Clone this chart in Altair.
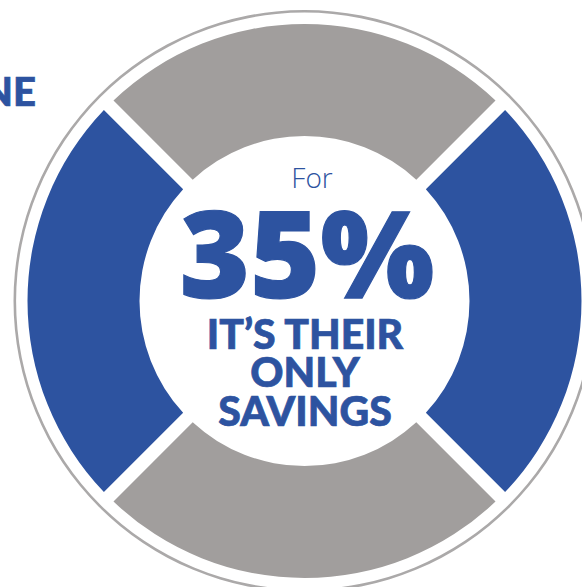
import math
import altair as alt
import pandas as pd

# Ring segments, clockwise from the top
segments = ["top", "right", "bottom", "left"]
shares = [25, 25, 25, 25]
tones = ["#A19E9D", "#2D53A0", "#A19E9D", "#2D53A0"]

BLUE = "#2D53A0"
CX, CY = 304.5, 301

ring_data = pd.DataFrame({"segment": segments, "share": shares, "order": range(len(segments))})

rim = (
    alt.Chart(pd.DataFrame({"part": ["rim"]}))
    .mark_arc(innerRadius=288.4, outerRadius=291, theta=0, theta2=2 * math.pi, color="#ABA9A9")
    .encode(x=alt.value(CX), y=alt.value(CY))
)

ring = (
    alt.Chart(ring_data)
    .mark_arc(innerRadius=165, outerRadius=277, padAngle=0.042)
    .encode(
        theta=alt.Theta(
            "share:Q",
            stack=True,
            scale=alt.Scale(domain=[0, 100], range=[-math.pi / 4, 7 * math.pi / 4]),
        ),
        color=alt.Color("segment:N", scale=alt.Scale(domain=segments, range=tones), legend=None),
        order=alt.Order("order:Q"),
        x=alt.value(CX),
        y=alt.value(CY),
    )
)


def label(text, x, y, size, weight=900, align="center", font="Lato", thicken=0.7):
    return (
        alt.Chart(pd.DataFrame({"label": [text]}))
        .mark_text(
            font=font,
            fontSize=size,
            fontWeight=weight,
            color=BLUE,
            stroke=BLUE,
            strokeWidth=thicken,
            align=align,
            baseline="alphabetic",
        )
        .encode(text="label:N", x=alt.value(x), y=alt.value(y))
    )


chart = alt.layer(
    rim,
    ring,
    label("ONE", 36, 106, 40, align="right"),
    label("For", 312, 188, 28, weight=300, font="Open Sans", thicken=0),
    label("35%", 307, 298, 120, weight=800, font="Open Sans", thicken=1.2),
    label("IT’S THEIR", 305, 349, 41),
    label("ONLY", 305, 387, 41),
    label("SAVINGS", 305, 426, 41),
).properties(
    width=582,
    height=587,
    padding=0,
    autosize=alt.AutoSizeParams(type="none"),
    background="white",
).configure_view(stroke=None)

chart.save("out.html", embed_options={"renderer": "svg", "actions": False})
